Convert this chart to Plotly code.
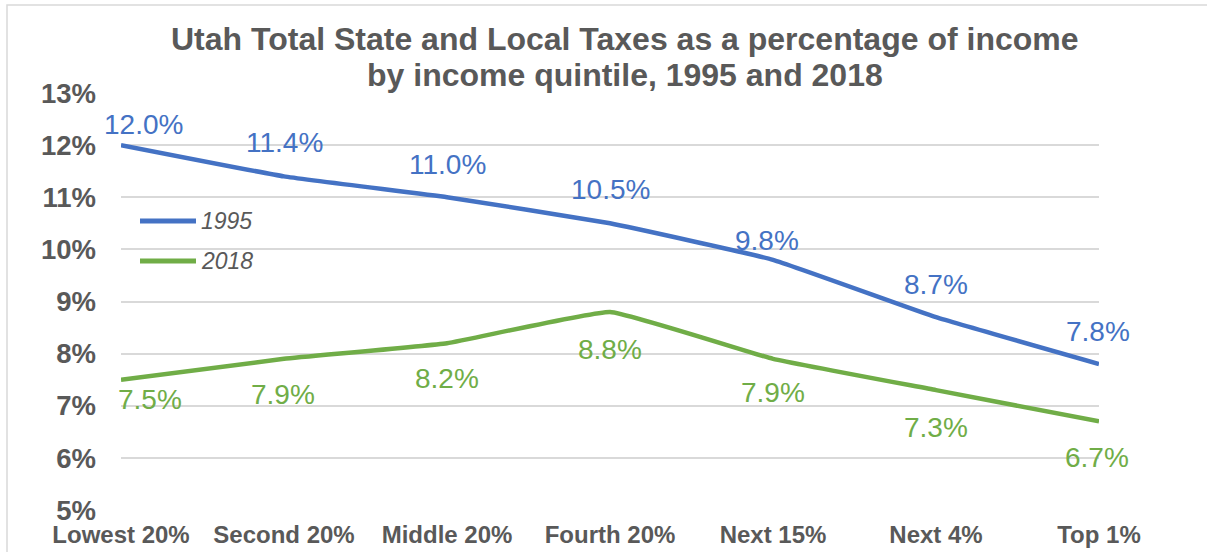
import plotly.graph_objects as go

categories = ["Lowest 20%", "Second 20%", "Middle 20%", "Fourth 20%", "Next 15%", "Next 4%", "Top 1%"]
series_names = ["1995", "2018"]
values_1995 = [12.0, 11.4, 11.0, 10.5, 9.8, 8.7, 7.8]
values_2018 = [7.5, 7.9, 8.2, 8.8, 7.9, 7.3, 6.7]
y_tick_vals = [5, 6, 7, 8, 9, 10, 11, 12, 13]
y_tick_text = [f"{v}%" for v in y_tick_vals]
title_lines = ["Utah Total State and Local Taxes as a percentage of income",
               "by income quintile, 1995 and 2018"]

# label offsets (styling, in pixels)
shift_1995 = [(22, 21), (0, 34), (0, 33), (0, 34), (-6, 19), (0, 33), (-1, 33)]
shift_2018 = [(29, -20), (-1, -36), (0, -35), (0, -38), (0, -34), (0, -37), (-2, -36)]

BLUE = "#4472C4"
GREEN = "#70AD47"
GRAY = "#595959"
FONT = "Liberation Sans, Arial, sans-serif"

fig = go.Figure()
for name, vals, color in [(series_names[0], values_1995, BLUE), (series_names[1], values_2018, GREEN)]:
    fig.add_trace(go.Scatter(
        x=list(range(len(categories))), y=vals, mode="lines", name=name,
        line=dict(color=color, width=4.5, shape="spline", smoothing=0.3),
        showlegend=False, hoverinfo="skip"))

annotations = []
for vals, shifts, color in [(values_1995, shift_1995, BLUE), (values_2018, shift_2018, GREEN)]:
    for i, v in enumerate(vals):
        annotations.append(dict(
            x=i, y=v, xref="x", yref="y", text=f"{v:.1f}%", showarrow=False,
            xshift=shifts[i][0], yshift=shifts[i][1],
            font=dict(family=FONT, size=28, color=color)))

def px_x(p):
    return (p - 121) / 978.0

def px_y(p):
    return (510 - p) / 417.0

# title as two lines (tighter line spacing than plotly's default)
for line, ty in zip(title_lines, [39, 75]):
    annotations.append(dict(x=px_x(625), y=px_y(ty), xref="paper", yref="paper",
                            text=f"<b>{line}</b>", showarrow=False, xanchor="center", yanchor="middle",
                            font=dict(family=FONT, size=32, color=GRAY)))

# manual legend
shapes = []
for name, color, ly in [(series_names[0], BLUE, 221), (series_names[1], GREEN, 261)]:
    shapes.append(dict(type="line", xref="paper", yref="paper",
                       x0=px_x(140), x1=px_x(196), y0=px_y(ly), y1=px_y(ly),
                       line=dict(color=color, width=5)))
    annotations.append(dict(x=px_x(199), y=px_y(ly), xref="paper", yref="paper",
                            text=f"<i>{name}</i>", showarrow=False, xanchor="left", yanchor="middle",
                            font=dict(family=FONT, size=23, color=GRAY)))

# outer border (left and top edges visible)
shapes.append(dict(type="rect", xref="paper", yref="paper",
                   x0=px_x(7), x1=px_x(1500), y0=px_y(800), y1=px_y(5),
                   line=dict(color="#D9D9D9", width=1.5), fillcolor="rgba(0,0,0,0)", layer="below"))

fig.update_layout(
    width=1207, height=552,
    margin=dict(l=121, r=108, t=93, b=42, pad=0, autoexpand=False),
    paper_bgcolor="white", plot_bgcolor="white",
    xaxis=dict(range=[0, 6], tickmode="array", tickvals=list(range(len(categories))),
               ticktext=[f"<b>{c}</b>" for c in categories], automargin=False,
               showgrid=False, zeroline=False, showline=False, ticks="",
               tickfont=dict(family=FONT, size=24, color=GRAY), ticklabelstandoff=8),
    yaxis=dict(range=[5, 13], tickmode="array", tickvals=y_tick_vals,
               ticktext=[f"<b>{t}</b>" for t in y_tick_text], automargin=False,
               showgrid=True, gridcolor="#D9D9D9", gridwidth=1.5, zeroline=False, showline=False, ticks="",
               tickfont=dict(family=FONT, size=27.5, color=GRAY), ticklabelstandoff=24),
    annotations=annotations, shapes=shapes,
)

fig.write_html("out.html")
